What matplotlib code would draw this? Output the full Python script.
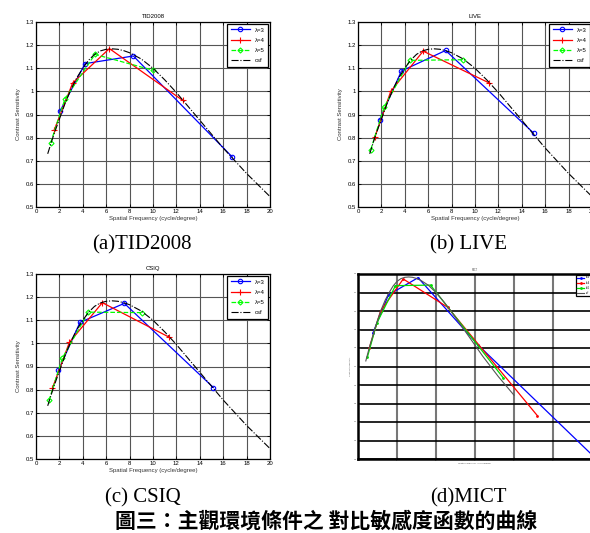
import numpy as np
import matplotlib.pyplot as plt

# csf curve (same curve in every panel)
csf_x = [1, 1.5, 2, 2.5, 3, 3.5, 4, 4.5, 5, 5.5, 6, 6.5, 7, 7.5, 8, 9, 10, 11, 12,
         13, 14, 15, 16, 17, 18, 19, 20]
csf_y = [0.73, 0.81, 0.88, 0.95, 1.01, 1.06, 1.10, 1.135, 1.16, 1.175, 1.182, 1.184,
         1.182, 1.176, 1.167, 1.14, 1.10, 1.05, 0.995, 0.935, 0.875, 0.815, 0.755,
         0.70, 0.645, 0.595, 0.545]

# TID2008
tid_l3_x = [2.05, 4.19, 8.32, 16.78]
tid_l3_y = [0.914, 1.12, 1.153, 0.716]
tid_l4_x = [1.54, 3.13, 6.27, 12.54]
tid_l4_y = [0.831, 1.036, 1.185, 0.961]
tid_l5_x = [1.25, 2.48, 5.04, 10.03]
tid_l5_y = [0.777, 0.968, 1.16, 1.091]

# LIVE
live_l3_x = [1.86, 3.71, 7.49, 15.0]
live_l3_y = [0.878, 1.088, 1.177, 0.82]
live_l4_x = [1.43, 2.8, 5.57, 11.23]
live_l4_y = [0.801, 1.0, 1.174, 1.036]
live_l5_x = [1.09, 2.23, 4.43, 8.94]
live_l5_y = [0.748, 0.932, 1.134, 1.137]

# CSIQ
csiq_l3_x = [1.91, 3.76, 7.55, 15.16]
csiq_l3_y = [0.883, 1.091, 1.173, 0.809]
csiq_l4_x = [1.4, 2.85, 5.67, 11.37]
csiq_l4_y = [0.806, 1.004, 1.176, 1.027]
csiq_l5_x = [1.11, 2.25, 4.47, 9.09]
csiq_l5_y = [0.753, 0.936, 1.135, 1.133]

# MICT
mict_l3_x = [1.9, 3.9, 7.7, 15.4, 30.8]
mict_l3_y = [0.88, 1.087, 1.18, 0.816, 0.19]
mict_l4_x = [1.45, 2.9, 5.8, 11.5, 23.0]
mict_l4_y = [0.80, 1.0, 1.173, 1.02, 0.434]
mict_l5_x = [1.2, 2.4, 4.8, 9.3, 18.6]
mict_l5_y = [0.75, 0.933, 1.137, 1.14, 0.64]

labels = ['λ=3', 'λ=4', 'λ=5', 'csf']
captions = ['(a)TID2008', '(b) LIVE', '(c) CSIQ', '(d)MICT']

fig = plt.figure(figsize=(5.9, 5.33), dpi=100)
plt.rcParams['font.family'] = ['Liberation Sans', 'DejaVu Sans']

fs = 4.3
w = 234 / 590
h = 185 / 533


def small_panel(rect, title, l3, l4, l5):
    ax = fig.add_axes(rect)
    ax.plot(l3[0], l3[1], color='#0000ff', marker='o', ms=3.2, mfc='none', mew=0.8, lw=0.9, label=labels[0])
    ax.plot(l4[0], l4[1], color='#ff0000', marker='+', ms=4, mew=0.8, lw=0.9, label=labels[1])
    ax.plot(l5[0], l5[1], color='#00ff00', marker='D', ms=2.6, mfc='none', mew=0.8, lw=0.9, ls='--', label=labels[2])
    ax.plot(csf_x, csf_y, color='black', lw=0.8, ls='-.', label=labels[3])
    ax.set_xlim(0, 20)
    ax.set_ylim(0.5, 1.3)
    ax.set_xticks(np.arange(0, 21, 2))
    ax.set_yticks(np.round(np.arange(0.5, 1.31, 0.1), 1))
    ax.set_yticklabels(['0.5', '0.6', '0.7', '0.8', '0.9', '1', '1.1', '1.2', '1.3'])
    ax.grid(True, color='#555555', lw=0.8)
    ax.tick_params(direction='in', labelsize=fs, length=2, width=0.6, pad=1.5, top=True, right=True)
    for s in ax.spines.values():
        s.set_linewidth(0.9)
    ax.set_title(title, fontsize=fs, pad=3)
    ax.set_xlabel('Spatial Frequency (cycle/degree)', fontsize=fs, labelpad=1.5, color='#333333')
    ax.set_ylabel('Contrast Sensitivity', fontsize=fs, labelpad=3, color='#333333')
    leg = ax.legend(loc='upper right', fontsize=fs, fancybox=False, edgecolor='black',
                    framealpha=1, handlelength=3.2, labelspacing=0.85, borderpad=0.6,
                    borderaxespad=0.3)
    leg.get_frame().set_linewidth(0.9)
    return ax


small_panel([36 / 590, 1 - 207 / 533, w, h], 'TID2008',
            (tid_l3_x, tid_l3_y), (tid_l4_x, tid_l4_y), (tid_l5_x, tid_l5_y))
small_panel([358 / 590, 1 - 207 / 533, w, h], 'LIVE',
            (live_l3_x, live_l3_y), (live_l4_x, live_l4_y), (live_l5_x, live_l5_y))
small_panel([36 / 590, 1 - 459 / 533, w, h], 'CSIQ',
            (csiq_l3_x, csiq_l3_y), (csiq_l4_x, csiq_l4_y), (csiq_l5_x, csiq_l5_y))

# MICT panel, drawn with thicker grid and tiny text
ax = fig.add_axes([358 / 590, 1 - 459 / 533, w, h])
ax.plot(mict_l3_x, mict_l3_y, color='#0000ff', marker='.', ms=2, lw=0.9, label=labels[0])
ax.plot(mict_l4_x, mict_l4_y, color='#ff0000', marker='.', ms=2, lw=0.9, label=labels[1])
ax.plot(mict_l5_x, mict_l5_y, color='#00dd00', marker='.', ms=2, lw=0.9, label=labels[2])
ax.plot(csf_x, csf_y, color='#555555', lw=0.8, label=labels[3])
ax.set_xlim(0, 30)
ax.set_ylim(0.2, 1.2)
ax.set_xticks(np.arange(0, 31, 5))
ax.set_yticks(np.round(np.arange(0.2, 1.21, 0.1), 1))
ax.grid(True, axis='y', color='black', lw=1.2)
ax.grid(True, axis='x', color='#777777', lw=1.5)
ax.tick_params(direction='in', labelsize=1.6, length=1.5, width=0.6, pad=1, colors='#555555')
for s in ax.spines.values():
    s.set_linewidth(1.8)
ax.set_title('MICT', fontsize=1.8, pad=2, color='#555555')
ax.set_xlabel('Spatial Frequency (cycle/degree)', fontsize=1.6, labelpad=1, color='#555555')
ax.set_ylabel('Contrast Sensitivity', fontsize=1.6, labelpad=2, color='#555555')
leg = ax.legend(loc='upper right', fontsize=1.8, fancybox=False, edgecolor='black',
                framealpha=1, handlelength=3, borderaxespad=0.2)
leg.get_frame().set_linewidth(0.9)

# captions
fig.text(142 / 590, 1 - 245 / 533, captions[0], family='Liberation Serif', fontsize=15, ha='center', va='center')
fig.text(468 / 590, 1 - 245 / 533, captions[1], family='Liberation Serif', fontsize=15, ha='center', va='center')
fig.text(143 / 590, 1 - 498 / 533, captions[2], family='Liberation Serif', fontsize=15, ha='center', va='center')
fig.text(468 / 590, 1 - 498 / 533, captions[3], family='Liberation Serif', fontsize=15, ha='center', va='center')
fig.text(326 / 590, 1 - 521 / 533, '圖三：主觀環境條件之 對比敏感度函數的曲線',
         family=['Noto Sans CJK TC', 'DejaVu Sans'], fontsize=15, fontweight='bold',
         ha='center', va='center')

fig.savefig('out.png', dpi=100)
